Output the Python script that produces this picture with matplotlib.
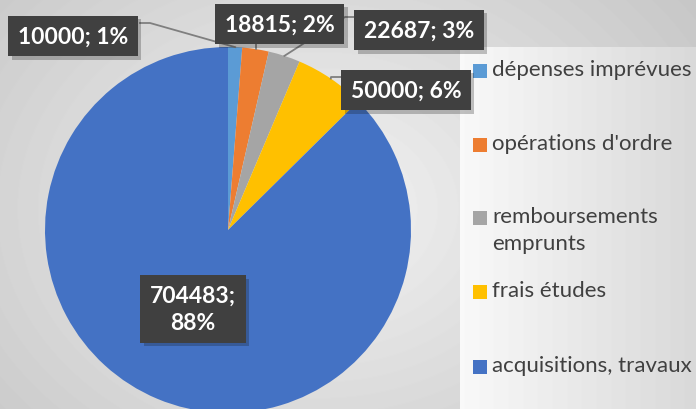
import numpy as np
import matplotlib.pyplot as plt
import matplotlib.patheffects as pe
from matplotlib.patches import Rectangle

# data
categories = ["dépenses imprévues", "opérations d'ordre", "remboursements\nemprunts",
              "frais études", "acquisitions, travaux"]
values = [10000, 18815, 22687, 50000, 704483]
percent_labels = ["1%", "2%", "3%", "6%", "88%"]
colors = ["#5B9BD5", "#ED7D31", "#A5A5A5", "#FFC000", "#4472C4"]

W, H = 696, 410
fig = plt.figure(figsize=(W / 100, H / 100), dpi=100)
ax = fig.add_axes([0, 0, 1, 1])

# background: soft radial gray gradient
yy, xx = np.mgrid[0:H, 0:W]
r = np.hypot((xx - 320) / 420, (yy - 200) / 330)
bg = np.clip(0.955 - 0.16 * r, 0, 1)
ax.imshow(bg, extent=(0, W, H, 0), cmap="gray", vmin=0, vmax=1, zorder=0, origin="upper")

# lighter panel behind the legend
panel = np.tile(np.linspace(0.975, 0.85, 236), (362, 1))
ax.imshow(panel, extent=(460, 696, 0, 362), cmap="gray", vmin=0, vmax=1, zorder=0.5)

# pie (pixel coords with y up)
cx, cy, rad = 228, H - 231, 183
wedges, _ = ax.pie(values, colors=colors, startangle=90, counterclock=False,
                   center=(cx, cy), radius=rad, frame=True)
ax.set_xlim(0, W)
ax.set_ylim(0, H)
ax.set_aspect("equal")
ax.axis("off")
for w in wedges:
    w.set_zorder(2)
    w.set_edgecolor("none")

# data labels
label_pos = [(73, 37), (280, 25), (419, 31), (406, 91), (193, 310)]
font = dict(family="Lato", weight="bold", size=16.5, color="white")
for i, (v, p) in enumerate(zip(values, percent_labels)):
    txt = f"{v}; {p}" if i < 4 else f"{v};\n{p}"
    x, y = label_pos[i]
    t = ax.text(x, H - y, txt, ha="center", va="center", zorder=6, linespacing=1.35,
                bbox=dict(boxstyle="square,pad=0.42", facecolor="#404040", edgecolor="none"),
                **font)
    t.get_bbox_patch().set_path_effects(
        [pe.SimplePatchShadow(offset=(2.5, -2.5), alpha=0.25), pe.Normal()])

# leader lines to slice midpoints
cum = np.cumsum(values) - np.array(values) / 2
ang = np.deg2rad(90 - 360 * cum / sum(values))
ex = cx + rad * np.cos(ang)
ey = cy + rad * np.sin(ang)
lc = dict(color="#7f7f7f", lw=1.3, zorder=4)
ax.plot([140, 150, ex[0]], [H - 24, H - 24, ey[0]], **lc)
ax.plot([ex[1], ex[1]], [H - 45, ey[1]], **lc)
ax.plot([ex[2], 345, 354], [ey[2], H - 18, H - 18], **lc)
ax.plot([ex[3], 331, 341], [ey[3], H - 78, H - 78], **lc)

# legend (square aligned with first line of each entry)
leg_y = [72, 146, 219, 293, 368]
for c, lab, y in zip(colors, categories, leg_y):
    ax.add_patch(Rectangle((473, H - y - 7), 14, 14, facecolor=c, edgecolor="none", zorder=5))
    ax.text(492, H - y + 12, lab, ha="left", va="top", family="Lato", size=16,
            color="#404040", linespacing=1.45, zorder=5)

fig.savefig("out.png", dpi=100)
